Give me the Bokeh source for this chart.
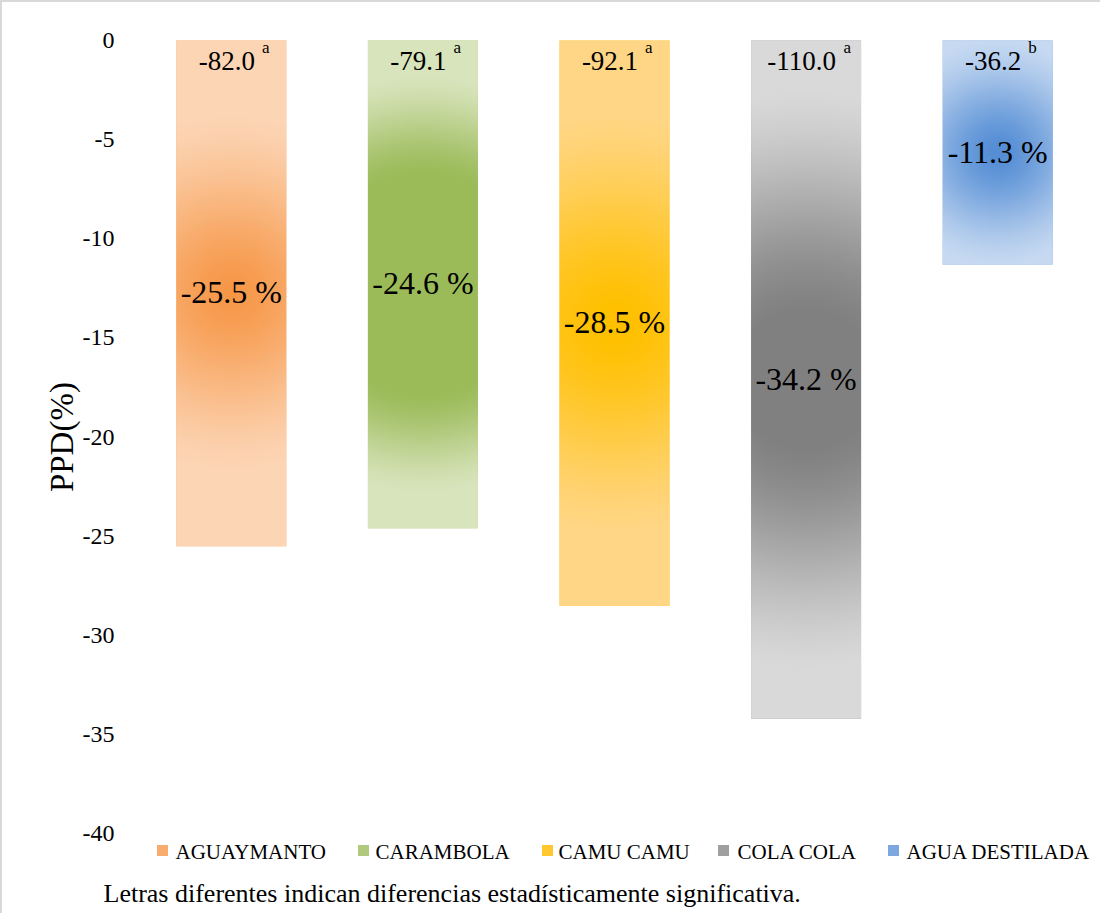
import math
import numpy as np
from bokeh.plotting import figure
from bokeh.models import Range1d, Label, ColumnDataSource
from bokeh.embed import file_html
from bokeh.resources import INLINE

# ---------------- data ----------------
categories = ["AGUAYMANTO", "CARAMBOLA", "CAMU CAMU", "COLA COLA", "AGUA DESTILADA"]
ppd = [-25.5, -24.6, -28.5, -34.2, -11.3]
top_values = ["-82.0", "-79.1", "-92.1", "-110.0", "-36.2"]
letters = ["a", "a", "a", "a", "b"]
y_ticks = [0, -5, -10, -15, -20, -25, -30, -35, -40]
y_title = "PPD(%)"
footnote = "Letras diferentes indican diferencias estadísticamente significativa."

# ---------------- styles / layout ----------------
light_colors = [(252, 213, 181), (216, 228, 188), (255, 214, 134), (217, 217, 217), (198, 217, 241)]
dark_colors = [(246, 150, 70), (155, 187, 89), (255, 192, 0), (128, 128, 128), (85, 142, 213)]
inner_stop = [0.0, 0.45, 0.05, 0.2, 0.05]
outer_stop = [0.7, 0.85, 0.75, 0.85, 1.0]
legend_mix = 0.35
FONT = "Liberation Serif"
BAR_W = 0.574
FIG_W, FIG_H = 1100, 913
X0_PX, Y0_PX = 133, 38          # canvas pixel of x=0 / y=0
PX_PER_CAT = 191.6
PX_PER_UNIT = 19.83
X_START = -X0_PX / PX_PER_CAT
X_END = (FIG_W - X0_PX) / PX_PER_CAT
Y_TOP = Y0_PX / PX_PER_UNIT
Y_BOTTOM = -(FIG_H - Y0_PX) / PX_PER_UNIT
TICK_RIGHT_PX = 112
LEG_SQ_PX = [160, 361, 545, 721, 891]       # canvas px centres of legend squares
LEG_TX_PX = [173, 373, 556, 735, 904]       # canvas px starts of legend labels
LEG_SQ_Y_PX = 848
LEG_MID_Y_PX = 849
NOTE_X_PX, NOTE_MID_Y_PX = 101, 891

xs = [i + 0.5 for i in range(len(categories))]


def gradient_image(h_units, light, dark, r0, r1):
    ny = max(int(round(abs(h_units) * PX_PER_UNIT)), 2)
    nx = int(round(BAR_W * PX_PER_CAT))
    yy, xx = np.mgrid[0:ny, 0:nx]
    u = (xx + 0.5) / nx * 2 - 1
    v = (yy + 0.5) / ny * 2 - 1
    r = np.sqrt((u * nx / ny) ** 2 + v ** 2)
    t = np.clip((r - r0) / (r1 - r0), 0, 1)
    t = t * t * (3 - 2 * t) * 0.5 + t * 0.5
    img = np.empty((ny, nx), dtype=np.uint32)
    view = img.view(dtype=np.uint8).reshape((ny, nx, 4))
    for c in range(3):
        view[:, :, c] = np.round(dark[c] + (light[c] - dark[c]) * t).astype(np.uint8)
    view[:, :, 3] = 255
    return img


def hexc(c):
    return "#%02x%02x%02x" % tuple(int(round(v)) for v in c)


images = [gradient_image(v, light_colors[i], dark_colors[i], inner_stop[i], outer_stop[i])
          for i, v in enumerate(ppd)]
legend_cols = [hexc([dark_colors[i][k] + (light_colors[i][k] - dark_colors[i][k]) * legend_mix for k in range(3)])
               for i in range(len(categories))]

p = figure(width=FIG_W, height=FIG_H, output_backend="svg", toolbar_location=None,
           x_range=Range1d(X_START, X_END), y_range=Range1d(Y_BOTTOM, Y_TOP),
           x_axis_location=None, y_axis_location=None,
           min_border=0,
           styles={"border-left": "2px solid #D9D9D9", "border-top": "2px solid #D9D9D9"})
p.outline_line_color = None
p.xgrid.grid_line_color = None
p.ygrid.grid_line_color = None
p.background_fill_color = "white"
p.border_fill_color = "white"

# base bars
bar_src = ColumnDataSource(dict(x=xs, top=[0] * len(xs), bottom=ppd, color=legend_cols))
p.vbar(x="x", top="top", bottom="bottom", width=BAR_W, source=bar_src,
       fill_color="color", line_color=None)

# gradient fills
img_src = ColumnDataSource(dict(image=images,
                                x=[x - BAR_W / 2 for x in xs],
                                y=ppd,
                                dw=[BAR_W] * len(xs),
                                dh=[-v for v in ppd]))
p.image_rgba(image="image", x="x", y="y", dw="dw", dh="dh", source=img_src)


def lab(**kw):
    base = dict(text_font=FONT, text_color="black", text_baseline="middle")
    base.update(kw)
    p.add_layout(Label(**base))


# labels inside bars
for x, v in zip(xs, ppd):
    lab(x=x, y=v / 2, text="%.1f %%" % v, text_font_size="32px",
        text_align="center", y_offset=1)

# top labels with superscript letters
cw = {"-": 0.333, ".": 0.25}
MAIN_FS = 27
for x, s, letter in zip(xs, top_values, letters):
    w = sum(cw.get(ch, 0.5) for ch in s) * MAIN_FS
    lab(x=x, y=0, text=s, text_font_size="%dpx" % MAIN_FS, text_align="center",
        x_offset=-4.5, y_offset=-20)
    lab(x=x, y=0, text=letter, text_font_size="17px", text_align="left",
        x_offset=-4.5 + w / 2 + 7, y_offset=-7)

# y tick labels (on the y scale)
for t in y_ticks:
    lab(x=TICK_RIGHT_PX, x_units="screen", y=t, text=str(t), text_font_size="24px",
        text_align="right")

# y axis title
lab(x=59, x_units="screen", y=(min(y_ticks) + max(y_ticks)) / 2, text=y_title,
    text_font_size="33px", angle=math.pi / 2, text_align="center")

# legend
leg_x = [(px - X0_PX) / PX_PER_CAT for px in LEG_SQ_PX]
leg_y = [(Y0_PX - LEG_SQ_Y_PX) / PX_PER_UNIT] * len(LEG_SQ_PX)
p.scatter(x=leg_x, y=leg_y, marker="square", size=11, fill_color=legend_cols, line_color=None)
for cat, tx in zip(categories, LEG_TX_PX):
    lab(x=tx, x_units="screen", y=FIG_H - LEG_MID_Y_PX, y_units="screen", text=cat,
        text_font_size="21px", text_align="left")

# footnote
lab(x=NOTE_X_PX, x_units="screen", y=FIG_H - NOTE_MID_Y_PX, y_units="screen", text=footnote,
    text_font_size="26px", text_align="left")

open("out.html", "w").write(file_html(p, INLINE))
